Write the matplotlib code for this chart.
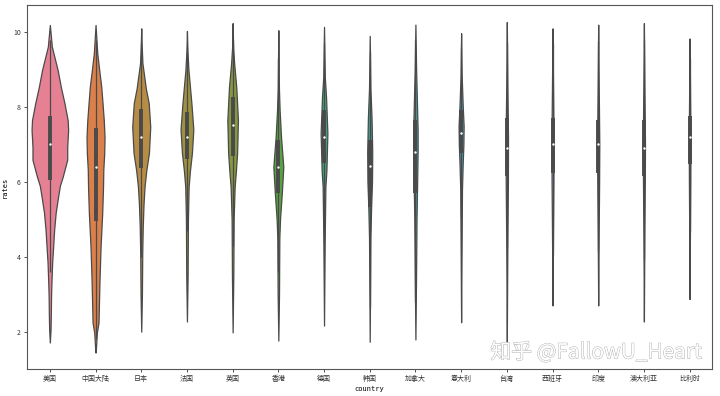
import matplotlib
matplotlib.use("Agg")
import matplotlib.pyplot as plt
import matplotlib.patheffects as pe
import seaborn as sns

countries = ["美国", "中国大陆", "日本", "法国", "英国", "香港", "德国", "韩国",
             "加拿大", "意大利", "台湾", "西班牙", "印度", "澳大利亚", "比利时"]

# box statistics
q1 = [6.05, 4.96, 6.38, 6.60, 6.68, 5.70, 6.50, 5.33, 5.70, 6.77, 6.16, 6.24, 6.25, 6.16, 6.48]
medians = [7.00, 6.40, 7.20, 7.20, 7.52, 6.40, 7.20, 6.43, 6.80, 7.30, 6.90, 7.00, 7.00, 6.90, 7.20]
q3 = [7.76, 7.44, 7.95, 7.87, 8.27, 7.12, 7.92, 7.12, 7.65, 7.92, 7.70, 7.70, 7.65, 7.65, 7.76]
whisk_lo = [3.60, 1.80, 4.00, 4.70, 4.30, 3.60, 4.40, 2.65, 2.80, 5.05, 4.24, 4.05, 4.15, 3.90, 4.67]
whisk_hi = [9.80, 9.80, 9.70, 9.60, 9.80, 9.30, 9.70, 9.50, 9.80, 9.60, 9.74, 9.70, 9.75, 9.80, 9.30]

# violin density profiles: rating levels and half widths (count-scaled)
us_y = [10.19, 9.61, 8.99, 8.54, 8.10, 7.65, 7.39, 6.93, 6.59, 6.13, 5.90, 5.60, 5.17, 4.72, 4.27, 3.84, 3.39, 2.93, 2.50, 2.05, 1.71]
us_w = [0, 0.044, 0.17, 0.24, 0.32, 0.39, 0.40, 0.38, 0.38, 0.28, 0.22, 0.18, 0.127, 0.094, 0.072, 0.05, 0.037, 0.026, 0.022, 0.015, 0]
cn_y = [10.19, 9.44, 8.99, 8.54, 8.10, 7.65, 7.20, 6.77, 6.32, 5.87, 5.17, 4.27, 3.39, 2.50, 2.24, 1.97, 1.60, 1.44]
cn_w = [0, 0.037, 0.08, 0.125, 0.153, 0.18, 0.197, 0.19, 0.17, 0.164, 0.146, 0.11, 0.087, 0.07, 0.065, 0.028, 0.011, 0]
jp_y = [10.10, 9.60, 9.17, 8.50, 8.10, 7.47, 6.77, 6.30, 5.87, 5.40, 4.80, 4.10, 3.00, 2.00]
jp_w = [0, 0.011, 0.026, 0.10, 0.164, 0.197, 0.168, 0.11, 0.072, 0.05, 0.033, 0.022, 0.015, 0]
fr_y = [10.03, 9.50, 8.99, 8.10, 7.40, 6.77, 6.30, 5.87, 5.00, 3.50, 2.27]
fr_w = [0, 0.011, 0.033, 0.098, 0.14, 0.109, 0.066, 0.037, 0.022, 0.015, 0]
uk_y = [10.24, 9.60, 9.17, 8.53, 7.65, 6.77, 6.30, 5.87, 5.00, 3.50, 1.98]
uk_w = [0, 0.011, 0.033, 0.08, 0.116, 0.098, 0.072, 0.044, 0.022, 0.015, 0]
hk_y = [10.05, 8.50, 7.92, 7.20, 6.40, 5.70, 5.00, 4.50, 3.00, 1.76]
hk_w = [0, 0.013, 0.028, 0.059, 0.109, 0.076, 0.037, 0.022, 0.015, 0]
de_y = [10.14, 8.80, 8.27, 7.30, 6.30, 5.87, 4.50, 2.16]
de_w = [0, 0.017, 0.044, 0.074, 0.052, 0.030, 0.015, 0]
kr_y = [9.90, 8.50, 7.70, 6.80, 6.00, 5.30, 4.50, 1.73]
kr_w = [0, 0.015, 0.040, 0.055, 0.050, 0.030, 0.015, 0]
ca_y = [10.20, 9.00, 8.20, 7.40, 6.80, 6.00, 5.00, 3.50, 1.79]
ca_w = [0, 0.015, 0.032, 0.048, 0.048, 0.038, 0.024, 0.014, 0]
it_y = [9.97, 8.80, 8.00, 7.50, 7.00, 6.50, 5.80, 4.50, 2.25]
it_w = [0, 0.013, 0.036, 0.055, 0.050, 0.035, 0.019, 0.012, 0]
tw_y = [10.27, 8.50, 7.20, 6.00, 4.50, 1.73]
tw_w = [0, 0.013, 0.026, 0.024, 0.013, 0]
es_y = [10.10, 8.50, 7.00, 6.00, 4.50, 2.70]
es_w = [0, 0.012, 0.024, 0.020, 0.010, 0]
in_y = [10.20, 8.50, 7.00, 6.00, 4.50, 2.70]
in_w = [0, 0.012, 0.024, 0.020, 0.010, 0]
au_y = [10.24, 8.50, 7.00, 6.00, 4.50, 2.27]
au_w = [0, 0.012, 0.024, 0.020, 0.010, 0]
be_y = [9.83, 8.50, 7.20, 6.00, 4.50, 2.87]
be_w = [0, 0.009, 0.018, 0.015, 0.007, 0]

profiles_y = [us_y, cn_y, jp_y, fr_y, uk_y, hk_y, de_y, kr_y, ca_y, it_y, tw_y, es_y, in_y, au_y, be_y]
profiles_w = [us_w, cn_w, jp_w, fr_w, uk_w, hk_w, de_w, kr_w, ca_w, it_w, tw_w, es_w, in_w, au_w, be_w]

yticks = [2, 4, 6, 8, 10]

plt.rcParams['font.family'] = ['Noto Sans CJK SC', 'DejaVu Sans']

fig = plt.figure(figsize=(7.2, 3.96), dpi=100)
ax = fig.add_axes([0.0375, 0.068, 0.952, 0.919])

palette = [sns.desaturate(c, 0.75) for c in sns.color_palette("husl", len(countries))]
gray = "#4a4a4a"

for i in range(len(countries)):
    yy = profiles_y[i]
    ww = profiles_w[i]
    ax.fill_betweenx(yy, [i - w for w in ww], [i + w for w in ww],
                     facecolor=palette[i], edgecolor=gray, linewidth=0.9, zorder=1)
    ax.plot([i, i], [whisk_lo[i], whisk_hi[i]], color=gray, linewidth=0.9,
            solid_capstyle='butt', zorder=2)
    ax.plot([i, i], [q1[i], q3[i]], color=gray, linewidth=2.8,
            solid_capstyle='butt', zorder=2)
    ax.scatter([i], [medians[i]], s=3, color='white', zorder=3, linewidths=0)

ax.set_xlim(-0.5, len(countries) - 0.5)
ax.set_ylim(1.0, 10.72)
ax.set_xticks(range(len(countries)))
ax.set_xticklabels(countries, fontsize=5)
ax.set_yticks(yticks)
ax.set_yticklabels([str(t) for t in yticks], fontsize=5)
ax.tick_params(length=2.5, width=0.6, pad=2, colors='#333333')
ax.set_xlabel("country", fontsize=5, family='DejaVu Sans Mono', labelpad=2)
ax.set_ylabel("rates", fontsize=5, family='DejaVu Sans Mono', labelpad=4)
for s in ax.spines.values():
    s.set_linewidth(0.8)
    s.set_color('#555555')

fig.text(0.828, 0.11, "知乎 @FallowU_Heart", fontsize=15, color='white',
         ha='center', va='center', family=['Noto Sans CJK SC', 'DejaVu Sans'],
         path_effects=[pe.withStroke(linewidth=0.7, foreground='#b4b4b4')], zorder=10)

fig.savefig("out.png", dpi=100)
